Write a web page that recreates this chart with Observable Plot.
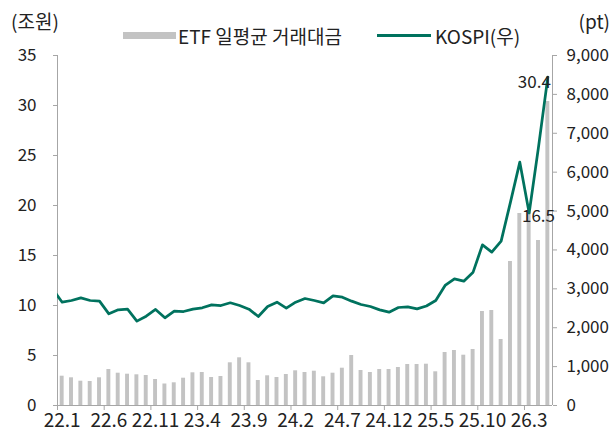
<!DOCTYPE html>
<html>
<head>
<meta charset="utf-8">
<script src="https://cdn.jsdelivr.net/npm/d3@7"></script>
<script src="https://cdn.jsdelivr.net/npm/@observablehq/plot@0.6"></script>
<style>
  html, body { margin: 0; padding: 0; background: #fff; }
  #wrap { position: relative; width: 614px; height: 432px; font-family: "Noto Sans CJK KR", "Noto Sans", sans-serif; color: #222; }
  #wrap svg { position: absolute; left: 0; top: 0; }
  .lab { position: absolute; font-size: 19px; line-height: 1; white-space: nowrap; }
  .sw { position: absolute; }
</style>
</head>
<body>
<div id="wrap">
  <div class="lab" style="left:11px; top:11px;">(조원)</div>
  <div class="lab" style="right:4px; top:11px;">(pt)</div>
  <div class="sw" style="left:123px; top:32px; width:53px; height:7px; background:#c3c3c3;"></div>
  <div class="lab" style="left:178px; top:26px;">ETF 일평균 거래대금</div>
  <div class="sw" style="left:377px; top:34px; width:54px; height:3px; background:#00725e;"></div>
  <div class="lab" style="left:435px; top:26px;">KOSPI(우)</div>
</div>
<script>
// Month categories (bars)
const months = [
  "22.1","22.2","22.3","22.4","22.5","22.6","22.7","22.8","22.9","22.10","22.11","22.12",
  "23.1","23.2","23.3","23.4","23.5","23.6","23.7","23.8","23.9","23.10","23.11","23.12",
  "24.1","24.2","24.3","24.4","24.5","24.6","24.7","24.8","24.9","24.10","24.11","24.12",
  "25.1","25.2","25.3","25.4","25.5","25.6","25.7","25.8","25.9","25.10","25.11","25.12",
  "26.1","26.2","26.3","26.4","26.5"
];
// ETF average daily trading value (trillion won)
const etf = [
  2.93,2.77,2.43,2.40,2.77,3.60,3.23,3.13,3.07,3.00,2.60,2.15,
  2.27,2.73,3.27,3.30,2.80,2.90,4.27,4.77,4.27,2.50,2.97,2.80,
  3.10,3.47,3.30,3.43,2.87,3.23,3.73,5.00,3.50,3.30,3.60,3.60,
  3.80,4.10,4.10,4.13,3.37,5.30,5.50,5.03,5.60,9.40,9.50,6.60,
  14.4,19.2,19.3,16.5,30.4
];
// KOSPI months (line) — starts one month earlier, clipped at the axis
const kospiMonths = ["21.12"].concat(months);
const kospi = [
  2990,
  2656,2700,2769,2700,2683,2357,2460,2477,2169,2297,2469,2254,
  2426,2417,2477,2512,2589,2571,2641,2571,2477,2289,2546,2656,
  2503,2656,2751,2700,2641,2820,2786,2683,2597,2546,2460,2400,
  2520,2537,2486,2560,2700,3086,3257,3197,3429,4131,3943,4226,
  5228,6257,4950,6643,8443
];
const xTickLabels = ["22.1","22.6","22.11","23.4","23.9","24.2","24.7","24.12","25.5","25.10","26.3"];
const leftTicks = [0,5,10,15,20,25,30,35];
const rightTicks = [0,1000,2000,3000,4000,5000,6000,7000,8000,9000];
const annotMonths = ["26.4","26.5"];

const k = 35 / 9000;
const barData = months.map((m, i) => ({i, m, v: etf[i]}));
const lineData = kospiMonths.map((m, i) => ({i: i - 1, m, v: kospi[i] * k}));
const tickIdx = xTickLabels.map(l => months.indexOf(l));
const ann = annotMonths.map(m => barData[months.indexOf(m)]);

const axisColor = "#a6a6a6";
const textColor = "#222";

const chart = Plot.plot({
  width: 614,
  height: 432,
  marginLeft: 57,
  marginRight: 62,
  marginTop: 55,
  marginBottom: 27,
  style: {fontFamily: '"Noto Sans CJK KR", "Noto Sans", sans-serif', background: "transparent", color: textColor},
  x: {type: "linear", domain: [-0.5, months.length - 0.5], axis: null},
  y: {domain: [0, 35], axis: null},
  marks: [
    Plot.rectY(barData, {x1: d => d.i - 0.21, x2: d => d.i + 0.21, y: "v", fill: "#c3c3c3"}),
    Plot.ruleX([-0.5, months.length - 0.5], {stroke: axisColor}),
    Plot.ruleY([0], {stroke: axisColor}),
    Plot.axisY({anchor: "left", label: null, ticks: leftTicks, tickSize: 4, tickPadding: 17, stroke: axisColor, fill: textColor, fontSize: 17}),
    Plot.axisY({anchor: "right", label: null, ticks: rightTicks.map(t => t * k), tickSize: 4, tickPadding: 10,
      tickFormat: d => d3.format(",")(Math.round(d / k)), stroke: axisColor, fill: textColor, fontSize: 17}),
    Plot.axisX({anchor: "bottom", label: null, ticks: tickIdx.map(i => i - 0.5), tickSize: 5, tickFormat: () => "", stroke: axisColor}),
    Plot.axisX({anchor: "bottom", label: null, ticks: tickIdx, tickSize: 0, tickPadding: 8,
      tickFormat: i => months[Math.round(i)], fill: textColor, fontSize: 19}),
    Plot.line(lineData, {x: "i", y: "v", stroke: "#00725e", strokeWidth: 2.75, clip: true}),
    Plot.text([ann[0]], {x: "i", y: "v", text: d => d3.format(".1f")(d.v), dy: -24, fontSize: 17, fill: textColor}),
    Plot.text([ann[1]], {x: "i", y: "v", text: d => d3.format(".1f")(d.v), dy: -19, dx: 3, textAnchor: "end", fontSize: 17, fill: textColor})
  ]
});
document.getElementById("wrap").prepend(chart);
</script>
</body>
</html>
